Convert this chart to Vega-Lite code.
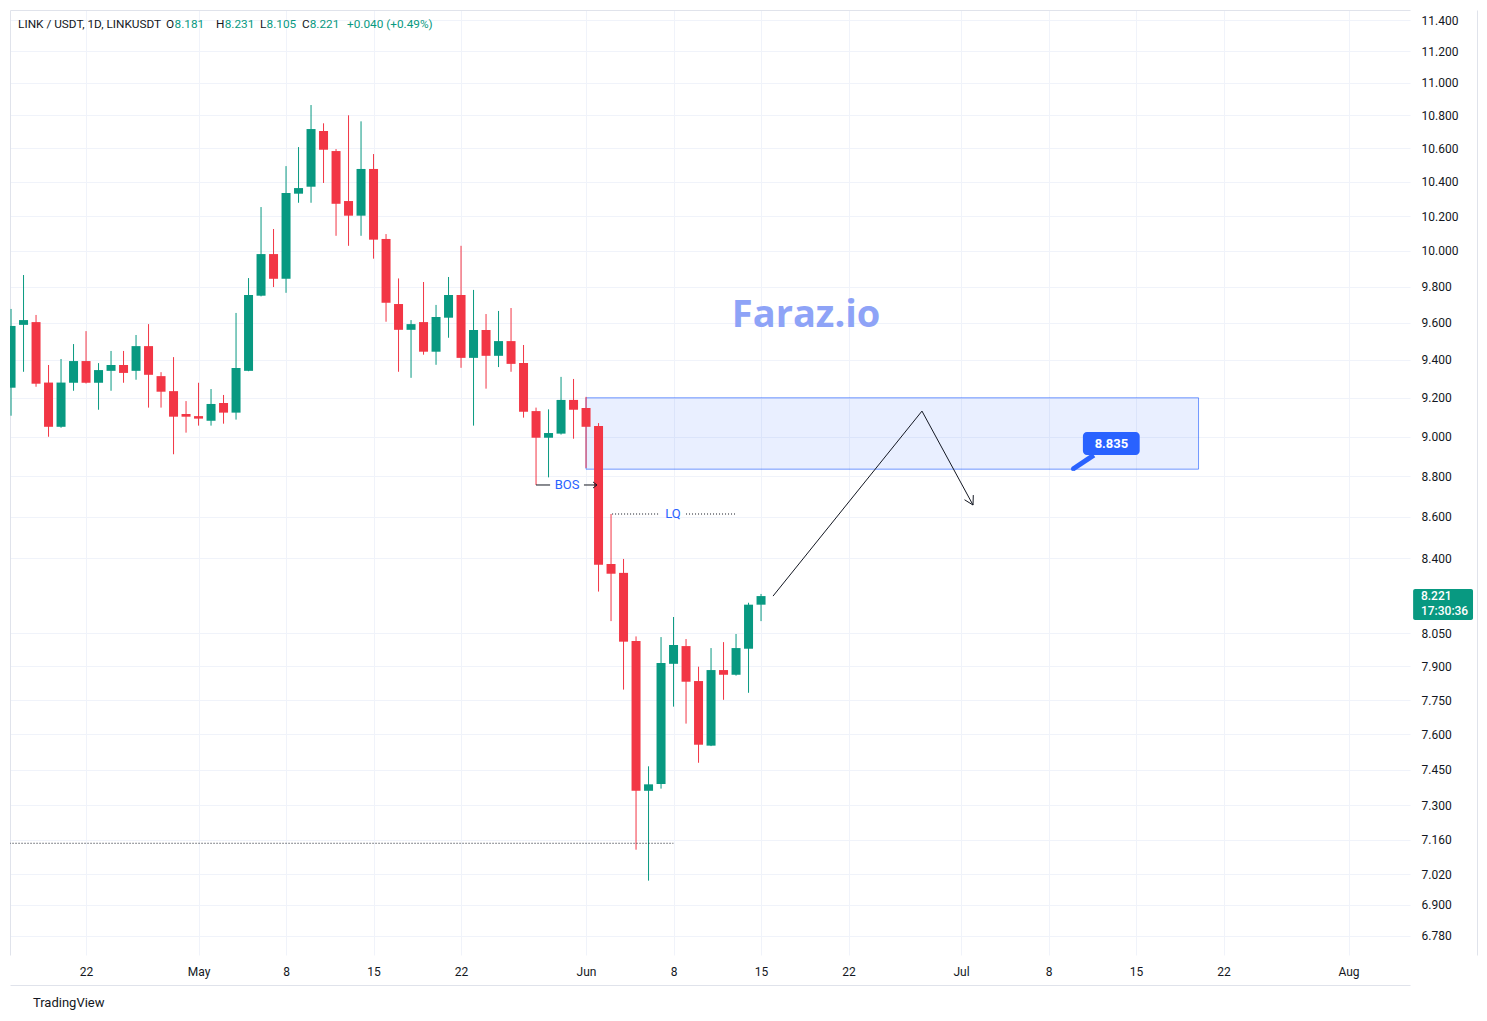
{
  "$schema": "https://vega.github.io/schema/vega-lite/v6.json",
  "width": 1400,
  "height": 945,
  "autosize": {"type": "none"},
  "padding": {"left": 10, "top": 10, "right": 77, "bottom": 66},
  "background": "#ffffff",
  "config": {"view": {"stroke": null}, "font": "Roboto"},
  "resolve": {"axis": {"x": "independent", "y": "independent"}},
  "datasets": {
    "candles": [
      {"d":"2024-04-16","o":9.253,"h":9.676,"l":9.107,"c":9.583},
      {"d":"2024-04-17","o":9.589,"h":9.864,"l":9.337,"c":9.615},
      {"d":"2024-04-18","o":9.604,"h":9.643,"l":9.258,"c":9.274},
      {"d":"2024-04-19","o":9.280,"h":9.373,"l":8.999,"c":9.050},
      {"d":"2024-04-20","o":9.050,"h":9.405,"l":9.045,"c":9.280},
      {"d":"2024-04-21","o":9.279,"h":9.485,"l":9.237,"c":9.394},
      {"d":"2024-04-22","o":9.394,"h":9.555,"l":9.275,"c":9.279},
      {"d":"2024-04-23","o":9.279,"h":9.383,"l":9.138,"c":9.346},
      {"d":"2024-04-24","o":9.342,"h":9.448,"l":9.237,"c":9.373},
      {"d":"2024-04-25","o":9.373,"h":9.448,"l":9.279,"c":9.331},
      {"d":"2024-04-26","o":9.342,"h":9.534,"l":9.295,"c":9.474},
      {"d":"2024-04-27","o":9.474,"h":9.593,"l":9.149,"c":9.321},
      {"d":"2024-04-28","o":9.314,"h":9.335,"l":9.149,"c":9.232},
      {"d":"2024-04-29","o":9.235,"h":9.415,"l":8.910,"c":9.102},
      {"d":"2024-04-30","o":9.116,"h":9.183,"l":9.020,"c":9.102},
      {"d":"2024-05-01","o":9.105,"h":9.279,"l":9.056,"c":9.092},
      {"d":"2024-05-02","o":9.081,"h":9.246,"l":9.056,"c":9.168},
      {"d":"2024-05-03","o":9.173,"h":9.215,"l":9.066,"c":9.123},
      {"d":"2024-05-04","o":9.123,"h":9.654,"l":9.087,"c":9.357},
      {"d":"2024-05-05","o":9.342,"h":9.847,"l":9.340,"c":9.753},
      {"d":"2024-05-06","o":9.749,"h":10.252,"l":9.745,"c":9.982},
      {"d":"2024-05-07","o":9.982,"h":10.125,"l":9.797,"c":9.843},
      {"d":"2024-05-08","o":9.843,"h":10.493,"l":9.765,"c":10.334},
      {"d":"2024-05-09","o":10.330,"h":10.607,"l":10.277,"c":10.363},
      {"d":"2024-05-10","o":10.371,"h":10.863,"l":10.277,"c":10.716},
      {"d":"2024-05-11","o":10.704,"h":10.751,"l":10.393,"c":10.591},
      {"d":"2024-05-12","o":10.583,"h":10.595,"l":10.086,"c":10.271},
      {"d":"2024-05-13","o":10.287,"h":10.800,"l":10.029,"c":10.202},
      {"d":"2024-05-14","o":10.202,"h":10.763,"l":10.086,"c":10.476},
      {"d":"2024-05-15","o":10.476,"h":10.565,"l":9.956,"c":10.064},
      {"d":"2024-05-16","o":10.068,"h":10.096,"l":9.606,"c":9.710},
      {"d":"2024-05-17","o":9.703,"h":9.845,"l":9.337,"c":9.562},
      {"d":"2024-05-18","o":9.562,"h":9.615,"l":9.305,"c":9.593},
      {"d":"2024-05-19","o":9.604,"h":9.825,"l":9.428,"c":9.444},
      {"d":"2024-05-20","o":9.444,"h":9.698,"l":9.374,"c":9.632},
      {"d":"2024-05-21","o":9.628,"h":9.853,"l":9.519,"c":9.753},
      {"d":"2024-05-22","o":9.753,"h":10.029,"l":9.358,"c":9.411},
      {"d":"2024-05-23","o":9.411,"h":9.781,"l":9.056,"c":9.561},
      {"d":"2024-05-24","o":9.561,"h":9.648,"l":9.248,"c":9.422},
      {"d":"2024-05-25","o":9.422,"h":9.665,"l":9.362,"c":9.501},
      {"d":"2024-05-26","o":9.501,"h":9.681,"l":9.337,"c":9.379},
      {"d":"2024-05-27","o":9.383,"h":9.480,"l":9.097,"c":9.127},
      {"d":"2024-05-28","o":9.131,"h":9.149,"l":8.756,"c":8.994},
      {"d":"2024-05-29","o":8.994,"h":9.140,"l":8.794,"c":9.018},
      {"d":"2024-05-30","o":9.015,"h":9.310,"l":9.010,"c":9.189},
      {"d":"2024-05-31","o":9.189,"h":9.299,"l":8.989,"c":9.138},
      {"d":"2024-06-01","o":9.147,"h":9.205,"l":8.841,"c":9.050},
      {"d":"2024-06-02","o":9.054,"h":9.069,"l":8.242,"c":8.369},
      {"d":"2024-06-03","o":8.372,"h":8.613,"l":8.105,"c":8.326},
      {"d":"2024-06-04","o":8.330,"h":8.396,"l":7.796,"c":8.011},
      {"d":"2024-06-05","o":8.014,"h":8.035,"l":7.119,"c":7.361},
      {"d":"2024-06-06","o":7.361,"h":7.464,"l":6.995,"c":7.388},
      {"d":"2024-06-07","o":7.389,"h":8.032,"l":7.370,"c":7.915},
      {"d":"2024-06-08","o":7.911,"h":8.124,"l":7.721,"c":7.996},
      {"d":"2024-06-09","o":7.991,"h":8.023,"l":7.647,"c":7.831},
      {"d":"2024-06-10","o":7.834,"h":7.898,"l":7.479,"c":7.556},
      {"d":"2024-06-11","o":7.552,"h":7.982,"l":7.550,"c":7.883},
      {"d":"2024-06-12","o":7.883,"h":8.009,"l":7.751,"c":7.862},
      {"d":"2024-06-13","o":7.862,"h":8.046,"l":7.858,"c":7.982},
      {"d":"2024-06-14","o":7.979,"h":8.190,"l":7.782,"c":8.181},
      {"d":"2024-06-15","o":8.181,"h":8.231,"l":8.105,"c":8.221}
    ],
    "segs": [
      {"t1":"2024-05-28T00:00:00Z","p1":8.756,"t2":"2024-05-29T03:00:00Z","p2":8.756,"s":"solid"},
      {"t1":"2024-05-31T20:00:00Z","p1":8.756,"t2":"2024-06-01T21:00:00Z","p2":8.756,"s":"solid"},
      {"t1":"2024-06-01T13:30:00Z","p1":8.771,"t2":"2024-06-01T21:00:00Z","p2":8.756,"s":"solid"},
      {"t1":"2024-06-01T13:30:00Z","p1":8.741,"t2":"2024-06-01T21:00:00Z","p2":8.756,"s":"solid"},
      {"t1":"2024-06-15T23:00:00Z","p1":8.221,"t2":"2024-06-27T21:00:00Z","p2":9.131,"s":"solid"},
      {"t1":"2024-06-27T21:00:00Z","p1":9.131,"t2":"2024-07-01T23:00:00Z","p2":8.657,"s":"solid"},
      {"t1":"2024-07-01T23:30:00Z","p1":8.706,"t2":"2024-07-01T23:00:00Z","p2":8.657,"s":"solid"},
      {"t1":"2024-07-01T06:40:00Z","p1":8.683,"t2":"2024-07-01T23:00:00Z","p2":8.657,"s":"solid"},
      {"t1":"2024-06-03T02:00:00Z","p1":8.613,"t2":"2024-06-06T22:00:00Z","p2":8.613,"s":"dotted"},
      {"t1":"2024-06-09T00:00:00Z","p1":8.613,"t2":"2024-06-12T22:00:00Z","p2":8.613,"s":"dotted"},
      {"t1":"2024-04-01T00:00:00Z","p1":7.145,"t2":"2024-06-07T23:30:00Z","p2":7.145,"s":"dotted"}
    ],
    "header": [
      {"t":"2024-04-16T13:30:00Z","s":"LINK / USDT, 1D, LINKUSDT","k":"n"},
      {"t":"2024-04-28T09:30:00Z","s":"O","k":"n"},
      {"t":"2024-04-29T02:00:00Z","s":"8.181","k":"v"},
      {"t":"2024-05-02T09:30:00Z","s":"H","k":"n"},
      {"t":"2024-05-03T02:10:00Z","s":"8.231","k":"v"},
      {"t":"2024-05-05T22:00:00Z","s":"L","k":"n"},
      {"t":"2024-05-06T10:30:00Z","s":"8.105","k":"v"},
      {"t":"2024-05-09T06:45:00Z","s":"C","k":"n"},
      {"t":"2024-05-09T21:30:00Z","s":"8.221","k":"v"},
      {"t":"2024-05-12T21:00:00Z","s":"+0.040 (+0.49%)","k":"v"}
    ]
  },
  "layer": [
    {
      "data": {"values": [{"t1":"2024-06-01T00:00:00Z","t2":"2024-07-20T00:00:00Z","p1":8.835,"p2":9.2}]},
      "mark": {"type": "rect", "fill": "#2962ff", "fillOpacity": 0.1, "stroke": "#2962ff", "strokeOpacity": 0.65, "strokeWidth": 1},
      "encoding": {
        "x": {"field": "t1", "type": "temporal",
          "scale": {"type": "utc", "padding": 0, "domain": [{"year":2024,"month":4,"date":15,"hours":22,"utc":true},{"year":2024,"month":8,"date":5,"hours":22,"utc":true}]},
          "axis": {"orient": "top", "title": null, "labels": false, "ticks": false, "domain": true, "domainColor": "#e0e3eb", "grid": true, "gridColor": "#f0f3fa", "gridWidth": 1,
            "values": [{"year":2024,"month":4,"date":22,"utc":true},{"year":2024,"month":5,"date":1,"utc":true},{"year":2024,"month":5,"date":8,"utc":true},{"year":2024,"month":5,"date":15,"utc":true},{"year":2024,"month":5,"date":22,"utc":true},{"year":2024,"month":6,"date":1,"utc":true},{"year":2024,"month":6,"date":8,"utc":true},{"year":2024,"month":6,"date":15,"utc":true},{"year":2024,"month":6,"date":22,"utc":true},{"year":2024,"month":7,"date":1,"utc":true},{"year":2024,"month":7,"date":8,"utc":true},{"year":2024,"month":7,"date":15,"utc":true},{"year":2024,"month":7,"date":22,"utc":true},{"year":2024,"month":8,"date":1,"utc":true}]}},
        "x2": {"field": "t2"},
        "y": {"field": "p1", "type": "quantitative",
          "scale": {"type": "log", "domain": [6.706, 11.465], "nice": false, "zero": false, "padding": 0},
          "axis": {"orient": "left", "title": null, "labels": false, "ticks": false, "domain": true, "domainColor": "#e0e3eb", "grid": true, "gridColor": "#f0f3fa", "gridWidth": 1,
            "values": [6.78, 6.9, 7.02, 7.16, 7.3, 7.45, 7.6, 7.75, 7.9, 8.05, 8.4, 8.6, 8.8, 9, 9.2, 9.4, 9.6, 9.8, 10, 10.2, 10.4, 10.6, 10.8, 11, 11.2, 11.4]}},
        "y2": {"field": "p2"}
      }
    },
    {
      "mark": {"type": "rule", "color": "#089981", "strokeDash": [1, 2], "strokeWidth": 1},
      "encoding": {"y": {"datum": 8.221, "type": "quantitative", "axis": null}}
    },
    {
      "data": {"name": "candles"},
      "mark": {"type": "rule", "strokeWidth": 1, "clip": true},
      "encoding": {
        "x": {"field": "d", "type": "temporal",
          "axis": {"orient": "bottom", "offset": 30, "title": null, "ticks": false, "tickSize": 0, "domain": true, "domainColor": "#e0e3eb", "grid": false,
            "labelPadding": -14, "labelBaseline": "middle", "labelFont": "Roboto", "labelFontSize": 12, "labelColor": "#131722", "labelOverlap": false, "labelFlush": false,
            "labelExpr": "utcdate(datum.value) == 1 ? utcFormat(datum.value, '%b') : utcFormat(datum.value, '%-d')",
            "values": [{"year":2024,"month":4,"date":22,"utc":true},{"year":2024,"month":5,"date":1,"utc":true},{"year":2024,"month":5,"date":8,"utc":true},{"year":2024,"month":5,"date":15,"utc":true},{"year":2024,"month":5,"date":22,"utc":true},{"year":2024,"month":6,"date":1,"utc":true},{"year":2024,"month":6,"date":8,"utc":true},{"year":2024,"month":6,"date":15,"utc":true},{"year":2024,"month":6,"date":22,"utc":true},{"year":2024,"month":7,"date":1,"utc":true},{"year":2024,"month":7,"date":8,"utc":true},{"year":2024,"month":7,"date":15,"utc":true},{"year":2024,"month":7,"date":22,"utc":true},{"year":2024,"month":8,"date":1,"utc":true}]}},
        "y": {"field": "l", "type": "quantitative",
          "axis": {"orient": "right", "offset": 67, "title": null, "ticks": false, "tickSize": 0, "domain": true, "domainColor": "#e0e3eb", "grid": false,
            "labelPadding": -56, "labelAlign": "left", "labelBaseline": "middle", "labelFont": "Roboto", "labelFontSize": 12, "labelColor": "#131722", "labelOverlap": false, "labelFlush": false, "format": ".3f",
            "values": [6.78, 6.9, 7.02, 7.16, 7.3, 7.45, 7.6, 7.75, 7.9, 8.05, 8.4, 8.6, 8.8, 9, 9.2, 9.4, 9.6, 9.8, 10, 10.2, 10.4, 10.6, 10.8, 11, 11.2, 11.4]}},
        "y2": {"field": "h"},
        "color": {"condition": {"test": "datum.o <= datum.c", "value": "#089981"}, "value": "#f23645"}
      }
    },
    {
      "data": {"name": "candles"},
      "mark": {"type": "bar", "size": 9, "clip": true},
      "encoding": {
        "x": {"field": "d", "type": "temporal", "axis": null},
        "y": {"field": "o", "type": "quantitative", "axis": null},
        "y2": {"field": "c"},
        "color": {"condition": {"test": "datum.o <= datum.c", "value": "#089981"}, "value": "#f23645"}
      }
    },
    {
      "data": {"name": "segs"},
      "transform": [{"filter": "datum.s == 'solid'"}],
      "mark": {"type": "rule", "color": "#131722", "strokeWidth": 1},
      "encoding": {
        "x": {"field": "t1", "type": "temporal", "axis": null},
        "x2": {"field": "t2"},
        "y": {"field": "p1", "type": "quantitative", "axis": null},
        "y2": {"field": "p2"}
      }
    },
    {
      "data": {"name": "segs"},
      "transform": [{"filter": "datum.s == 'dotted'"}],
      "mark": {"type": "rule", "color": "#131722", "strokeWidth": 1, "strokeDash": [1, 2], "clip": true},
      "encoding": {
        "x": {"field": "t1", "type": "temporal", "axis": null},
        "x2": {"field": "t2"},
        "y": {"field": "p1", "type": "quantitative", "axis": null},
        "y2": {"field": "p2"}
      }
    },
    {
      "data": {"values": [{"t":"2024-05-30T11:30:00Z","p":8.756,"s":"BOS"},{"t":"2024-06-07T23:00:00Z","p":8.613,"s":"LQ"}]},
      "mark": {"type": "text", "font": "Roboto", "fontSize": 13, "color": "#2962ff", "align": "center", "baseline": "middle"},
      "encoding": {
        "x": {"field": "t", "type": "temporal", "axis": null},
        "y": {"field": "p", "type": "quantitative", "axis": null},
        "text": {"field": "s"}
      }
    },
    {
      "data": {"values": [{"t":"2024-06-18T14:30:00Z","p":9.577,"s":"Faraz.io"}]},
      "mark": {"type": "text", "font": "Open Sans", "fontWeight": "bold", "fontSize": 38, "color": "#8ea3f7", "align": "center", "baseline": "alphabetic"},
      "encoding": {
        "x": {"field": "t", "type": "temporal", "axis": null},
        "y": {"field": "p", "type": "quantitative", "axis": null},
        "text": {"field": "s"}
      }
    },
    {
      "data": {"values": [{"t1":"2024-07-09T23:00:00Z","p1":8.836,"t2":"2024-07-11T15:00:00Z","p2":8.906}]},
      "mark": {"type": "rule", "color": "#2962ff", "strokeWidth": 5},
      "encoding": {
        "x": {"field": "t1", "type": "temporal", "axis": null},
        "x2": {"field": "t2"},
        "y": {"field": "p1", "type": "quantitative", "axis": null},
        "y2": {"field": "p2"}
      }
    },
    {
      "data": {"values": [{"t":"2024-07-09T23:00:00Z","p":8.836}]},
      "mark": {"type": "point", "filled": true, "size": 18, "color": "#2962ff", "opacity": 1},
      "encoding": {
        "x": {"field": "t", "type": "temporal", "axis": null},
        "y": {"field": "p", "type": "quantitative", "axis": null}
      }
    },
    {
      "data": {"values": [{"t1":"2024-07-10T18:00:00Z","t2":"2024-07-15T07:00:00Z","p1":8.906,"p2":9.023}]},
      "mark": {"type": "rect", "color": "#2962ff", "cornerRadius": 4},
      "encoding": {
        "x": {"field": "t1", "type": "temporal", "axis": null},
        "x2": {"field": "t2"},
        "y": {"field": "p1", "type": "quantitative", "axis": null},
        "y2": {"field": "p2"}
      }
    },
    {
      "data": {"values": [{"t":"2024-07-13T00:45:00Z","p":8.963,"s":"8.835"}]},
      "mark": {"type": "text", "font": "Roboto", "fontWeight": "bold", "fontSize": 13, "color": "#ffffff", "align": "center", "baseline": "middle"},
      "encoding": {
        "x": {"field": "t", "type": "temporal", "axis": null},
        "y": {"field": "p", "type": "quantitative", "axis": null},
        "text": {"field": "s"}
      }
    },
    {
      "data": {"name": "header"},
      "mark": {"type": "text", "font": "Roboto", "fontSize": 11.8, "align": "left", "baseline": "middle"},
      "encoding": {
        "x": {"field": "t", "type": "temporal", "axis": null},
        "y": {"datum": 11.374, "type": "quantitative", "axis": null},
        "text": {"field": "s"},
        "color": {"field": "k", "type": "nominal", "scale": {"domain": ["n", "v"], "range": ["#131722", "#089981"]}, "legend": null}
      }
    },
    {
      "data": {"values": [{"t1":"2024-08-06T04:00:00Z","t2":"2024-08-10T23:00:00Z","p1":8.110,"p2":8.254}]},
      "mark": {"type": "rect", "color": "#089981", "cornerRadius": 2},
      "encoding": {
        "x": {"field": "t1", "type": "temporal", "axis": null},
        "x2": {"field": "t2"},
        "y": {"field": "p1", "type": "quantitative", "axis": null},
        "y2": {"field": "p2"}
      }
    },
    {
      "data": {"values": [{"t":"2024-08-06T19:00:00Z","p":8.221,"s":"8.221"},{"t":"2024-08-06T19:00:00Z","p":8.152,"s":"17:30:36"}]},
      "mark": {"type": "text", "font": "Roboto", "fontSize": 12, "fontWeight": 500, "color": "#ffffff", "align": "left", "baseline": "middle"},
      "encoding": {
        "x": {"field": "t", "type": "temporal", "axis": null},
        "y": {"field": "p", "type": "quantitative", "axis": null},
        "text": {"field": "s"}
      }
    },
    {
      "data": {"values": [{"t":"2024-04-17T18:00:00Z","p":6.525,"s":"TradingView"}]},
      "mark": {"type": "text", "font": "Roboto", "fontSize": 13, "color": "#131722", "align": "left", "baseline": "middle"},
      "encoding": {
        "x": {"field": "t", "type": "temporal", "axis": null},
        "y": {"field": "p", "type": "quantitative", "axis": null},
        "text": {"field": "s"}
      }
    }
  ]
}
